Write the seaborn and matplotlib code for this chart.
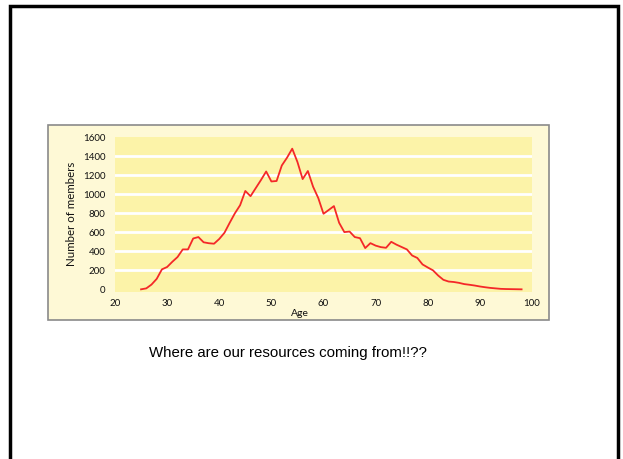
import matplotlib
matplotlib.use("Agg")
import matplotlib.pyplot as plt
from matplotlib.patches import Rectangle
import pandas as pd
import seaborn as sns

ages = list(range(25, 99))
members = [0, 10, 50, 110, 210, 235, 290, 340, 420, 420,
           535, 550, 495, 485, 480, 530, 595, 700, 800, 885,
           1035, 980, 1065, 1150, 1240, 1135, 1140, 1303, 1385, 1480,
           1340, 1160, 1245, 1080, 960, 795, 835, 876, 700, 602,
           608, 550, 538, 434, 486, 460, 444, 437, 500, 470,
           445, 420, 356, 330, 262, 230, 200, 145, 100, 82,
           77, 68, 55, 48, 40, 30, 22, 15, 10, 5,
           3, 2, 1, 0]
x_ticks = [20, 30, 40, 50, 60, 70, 80, 90, 100]
y_ticks = [0, 200, 400, 600, 800, 1000, 1200, 1400, 1600]
x_label = "Age"
y_label = "Number of members"
caption = "Where are our resources coming from!!??"

df = pd.DataFrame({"Age": ages, "Members": members})

W, H = 623, 459
fig = plt.figure(figsize=(W / 100, H / 100), dpi=100)
fig.patch.set_facecolor("white")

# slide frame
fig.add_artist(Rectangle((9.5 / W, -0.05), (618 - 9.5) / W, 1.05 - 6 / H,
                         transform=fig.transFigure, fill=False,
                         edgecolor="black", linewidth=2.5, zorder=0))
# chart panel
fig.add_artist(Rectangle((48 / W, 1 - 320 / H), (549 - 48) / W, (320 - 125) / H,
                         transform=fig.transFigure, facecolor="#FEF9D6",
                         edgecolor="#8a8a8a", linewidth=1.2, zorder=0))

ax = fig.add_axes([115 / W, 1 - 291.7 / H, (532 - 115) / W, (291.7 - 136.7) / H])
ax.set_facecolor("#FCF3A8")
sns.lineplot(data=df, x="Age", y="Members", ax=ax, color="#F42828", linewidth=1.3)

ax.set_xlim(20, 100)
ax.set_ylim(-25, 1606)
ax.set_xticks(x_ticks)
ax.set_yticks(y_ticks)
ax.set_xticklabels([str(t) for t in x_ticks], fontsize=7, family="Lato")
ax.set_yticklabels([str(t) for t in y_ticks], fontsize=7, family="Lato")
ax.tick_params(length=0, pad=5, colors="#111111")
ax.tick_params(axis="y", pad=7)
for s in ax.spines.values():
    s.set_visible(False)
for t in y_ticks[1:-1]:
    ax.axhline(t, color="white", linewidth=2, zorder=1)
ax.set_xlabel(x_label, fontsize=7.5, family="Lato", color="#111111")
ax.set_ylabel(y_label, fontsize=8.3, family="Lato", color="#111111")
ax.xaxis.set_label_coords((300 - 115) / 417, -0.11)
ax.yaxis.set_label_coords(-(115 - 77) / 417, 0.5)

fig.text(288 / W, 1 - 353 / H, caption, ha="center", va="center",
         fontsize=10.8, family="Liberation Sans", color="black")

fig.savefig("out.png", dpi=100)
